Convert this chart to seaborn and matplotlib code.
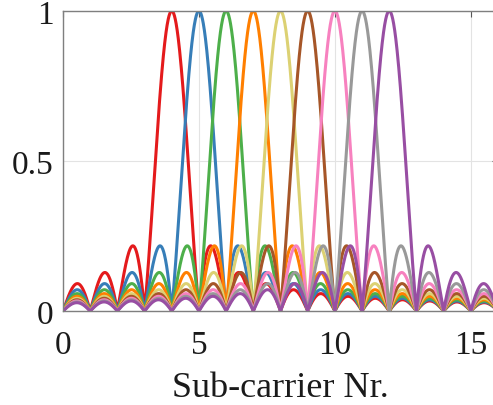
import numpy as np
import pandas as pd
import seaborn as sns
import matplotlib.pyplot as plt

# sub-carrier centre positions and their colours
centers = [4, 5, 6, 7, 8, 9, 10, 11, 12]
colors = ["#e41a1c", "#377eb8", "#4daf4a", "#ff7f00", "#dcd173",
          "#a65628", "#f781bf", "#999999", "#984ea3"]
x_ticks = [0, 5, 10, 15]
y_ticks = [0, 0.5, 1]
y_ticklabels = ["0", "0.5", "1"]

x = np.linspace(0, 16, 1601)
rows = []
for c in centers:
    rows.append(pd.DataFrame({"x": x, "y": np.abs(np.sinc(x - c)), "k": c}))
df = pd.concat(rows, ignore_index=True)

sns.set_style("white")
plt.rcParams['font.family'] = ['Liberation Serif', 'DejaVu Serif']

fig = plt.figure(figsize=(4.93, 4.06), dpi=100)
ax = fig.add_axes([63 / 493, 1 - 312 / 406, (498 - 63) / 493, 300 / 406])

sns.lineplot(data=df, x="x", y="y", hue="k", palette=colors, linewidth=2.2,
             legend=False, ax=ax)

ax.set_xlim(0, 16)
ax.set_ylim(0, 1)
ax.set_xticks(x_ticks)
ax.set_yticks(y_ticks)
ax.set_yticklabels(y_ticklabels)
ax.grid(True, color="#e3e3e3", linewidth=0.8)
ax.set_axisbelow(True)
for s in ax.spines.values():
    s.set_color("#7f7f7f")
    s.set_linewidth(1.0)
ax.tick_params(direction="in", length=4, color="#555555", labelsize=24,
               labelcolor="#1a1a1a", top=True, right=True)
ax.tick_params(axis="x", pad=13)
ax.tick_params(axis="y", pad=7)
ax.set_xlabel("Sub-carrier Nr.", fontsize=26, color="#1a1a1a", labelpad=8)
ax.set_ylabel("")

fig.savefig("out.png", dpi=100)
